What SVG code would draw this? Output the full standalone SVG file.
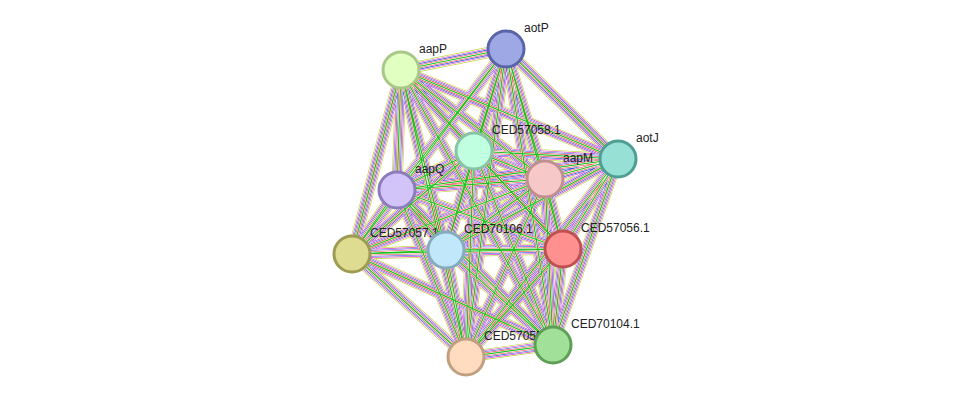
<svg xmlns="http://www.w3.org/2000/svg" xmlns:xlink="http://www.w3.org/1999/xlink" width="975" height="403" viewBox="0 0 975 403">
<style>
text{font-family:"Liberation Sans",Arial,sans-serif;font-size:12px;fill:#222}
circle{stroke-width:3}
#E path{fill:none}
</style>
<defs>
<g id="E">
<path d="M401 70L506 49M401 70L474 151M401 70L618 159M401 70L545 179M401 70L397 190M401 70L352 254M401 70L446 250M401 70L563 249M401 70L553 345M401 70L466 357"/>
<path d="M506 49L474 151M506 49L618 159M506 49L545 179M506 49L397 190M506 49L352 254M506 49L446 250M506 49L563 249M506 49L553 345M506 49L466 357"/>
<path d="M474 151L618 159M474 151L545 179M474 151L397 190M474 151L352 254M474 151L446 250M474 151L563 249M474 151L553 345M474 151L466 357"/>
<path d="M618 159L545 179M618 159L397 190M618 159L446 250M618 159L563 249M618 159L553 345M618 159L466 357"/>
<path d="M545 179L397 190M545 179L352 254M545 179L446 250M545 179L563 249M545 179L553 345M545 179L466 357"/>
<path d="M397 190L352 254M397 190L446 250M397 190L563 249M397 190L553 345M397 190L466 357"/>
<path d="M352 254L446 250M352 254L563 249M352 254L553 345M352 254L466 357"/>
<path d="M446 250L563 249M446 250L553 345M446 250L466 357M563 249L553 345M563 249L466 357M553 345L466 357"/>
</g>
</defs>
<rect width="975" height="403" fill="#fff"/>
<g id="connectors">
<use xlink:href="#E" stroke="#c0d840" stroke-width="11"/>
<use xlink:href="#E" stroke="#fff" stroke-width="9.6"/>
<use xlink:href="#E" stroke="#d040d0" stroke-width="8.4"/>
<use xlink:href="#E" stroke="#fff" stroke-width="7.2"/>
<use xlink:href="#E" stroke="#3050e0" stroke-width="6"/>
<use xlink:href="#E" stroke="#fff" stroke-width="4.8"/>
<use xlink:href="#E" stroke="#e02020" stroke-width="3.6" stroke-opacity="0.85"/>
<use xlink:href="#E" stroke="#fff" stroke-width="2.4"/>
<use xlink:href="#E" stroke="#20c020" stroke-width="1.2"/>
</g>
<g id="aapP"><circle cx="401" cy="70" r="18" fill="#e0ffc0" stroke="#a8c888"/><text x="419" y="53">aapP</text></g>
<g id="aotP"><circle cx="506" cy="49" r="18" fill="#9ea8e4" stroke="#5a64a8"/><text x="524" y="32">aotP</text></g>
<g id="aotJ"><circle cx="618" cy="159" r="18" fill="#96e0d6" stroke="#4e9e94"/><text x="636" y="142">aotJ</text></g>
<g id="CED57058.1"><circle cx="474" cy="151" r="18" fill="#c0ffe0" stroke="#88c4a4"/><text x="492" y="134">CED57058.1</text></g>
<g id="aapM"><circle cx="545" cy="179" r="18" fill="#f6c8c8" stroke="#c09090"/><text x="563" y="162">aapM</text></g>
<g id="aapQ"><circle cx="397" cy="190" r="18" fill="#d2c4f8" stroke="#8c7cbc"/><text x="415" y="173">aapQ</text></g>
<g id="CED57057.1"><circle cx="352" cy="254" r="18" fill="#dedc90" stroke="#9e9c54"/><text x="370" y="237">CED57057.1</text></g>
<g id="CED70106.1"><circle cx="446" cy="250" r="18" fill="#c0e8fa" stroke="#84acbe"/><text x="464" y="233">CED70106.1</text></g>
<g id="CED57056.1"><circle cx="563" cy="249" r="18" fill="#ff9090" stroke="#c05050"/><text x="581" y="232">CED57056.1</text></g>
<g id="CED57055.1"><circle cx="466" cy="357" r="18" fill="#ffdcc0" stroke="#c0a080"/><text x="484" y="340">CED57055.1</text></g>
<g id="CED70104.1"><circle cx="553" cy="345" r="18" fill="#a0e098" stroke="#5e9e56"/><text x="571" y="328">CED70104.1</text></g>
</svg>
